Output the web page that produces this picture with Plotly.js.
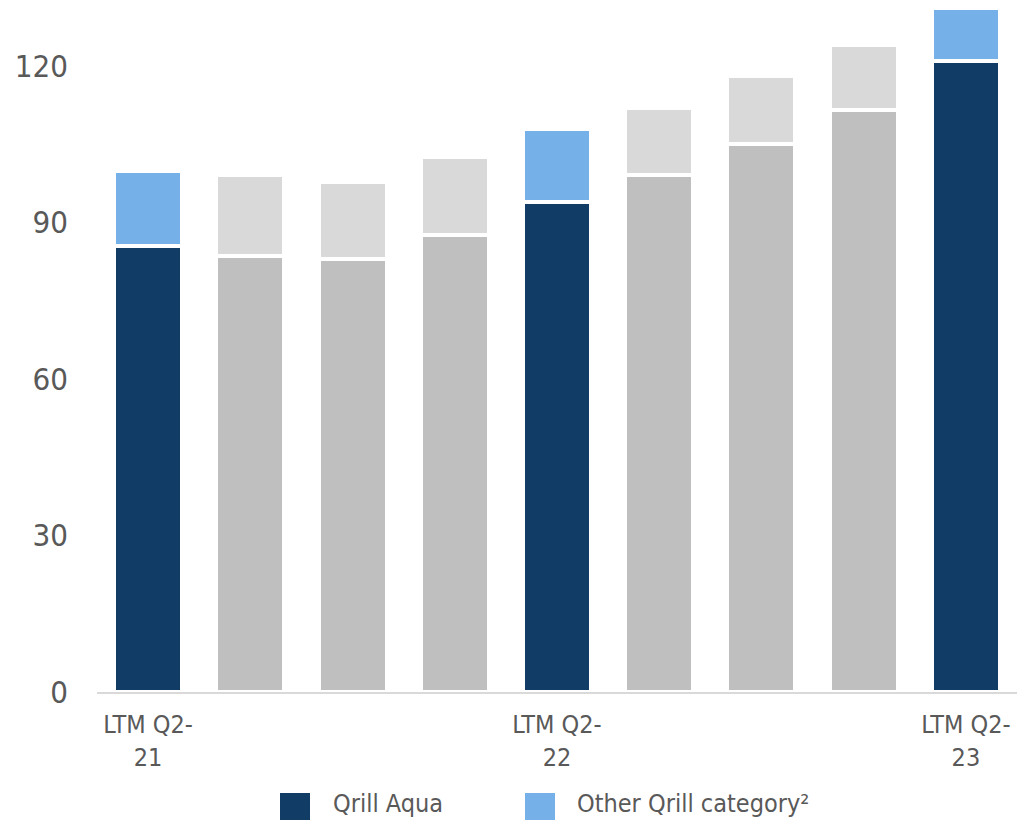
<!DOCTYPE html>
<html>
<head>
<meta charset="utf-8">
<script src="https://cdn.plot.ly/plotly-3.0.1.min.js"></script>
<style>
  html, body { margin: 0; padding: 0; background: #ffffff; }
  #chart { width: 1023px; height: 820px; }
</style>
</head>
<body>
<div id="chart"></div>
<script>
// Quarterly LTM periods
const periods = ["LTM Q2-21", "LTM Q3-21", "LTM Q4-21", "LTM Q1-22", "LTM Q2-22",
                 "LTM Q3-22", "LTM Q4-22", "LTM Q1-23", "LTM Q2-23"];
// Periods shown in colour (others are greyed out)
const highlighted = [true, false, false, false, true, false, false, false, true];
// Series values
const qrillAqua = [85.6, 83.6, 83.0, 87.6, 93.9, 99.2, 105.1, 111.6, 120.9];
const otherQrill = [14.2, 15.5, 14.8, 15.0, 14.0, 12.8, 13.0, 12.4, 10.2];
// Axis labels
const xTickVals = ["LTM Q2-21", "LTM Q2-22", "LTM Q2-23"];
const xTickText = ["LTM Q2-<br>21", "LTM Q2-<br>22", "LTM Q2-<br>23"];
const yTickVals = [0, 30, 60, 90, 120];
const seriesNames = ["Qrill Aqua", "Other Qrill category²"];

const navy = "#113c66", lightBlue = "#75b0e8";
const greyDark = "#bfbfbf", greyLight = "#d9d9d9";
const textColor = "#595959";
const font = "'DejaVu Sans Condensed', 'DejaVu Sans', sans-serif";

const traces = [
  {
    type: "bar", x: periods, y: qrillAqua, name: seriesNames[0],
    marker: { color: highlighted.map(h => h ? navy : greyDark), line: { color: "#ffffff", width: 4 } },
    hoverinfo: "x+y"
  },
  {
    type: "bar", x: periods, y: otherQrill, name: seriesNames[1],
    marker: { color: highlighted.map(h => h ? lightBlue : greyLight), line: { color: "#ffffff", width: 4 } },
    hoverinfo: "x+y"
  }
];

// Plot-area geometry (pixels) used to place the legend keys
const W = 1023, H = 820, mL = 97, mR = 6, mT = 3, mB = 128;
const px = v => (v - mL) / (W - mL - mR);
const py = v => (H - mB - v) / (H - mT - mB);

const legendItems = [
  { color: navy, name: seriesNames[0], x0: 280, tx: 331 },
  { color: lightBlue, name: seriesNames[1], x0: 525, tx: 575 }
];

const shapes = legendItems.map(it => ({
  type: "rect", xref: "paper", yref: "paper",
  x0: px(it.x0), x1: px(it.x0 + 30), y0: py(823), y1: py(793),
  fillcolor: it.color, line: { width: 0 }
}));
const annotations = legendItems.map(it => ({
  xref: "paper", yref: "paper", x: px(it.tx), y: py(804),
  xanchor: "left", yanchor: "middle", showarrow: false,
  text: it.name, font: { family: font, size: 25, color: textColor }
}));

const layout = {
  width: W, height: H,
  margin: { l: mL, r: mR, t: mT, b: mB, pad: 0 },
  paper_bgcolor: "#ffffff", plot_bgcolor: "#ffffff",
  barmode: "stack", bargap: 0.335,
  showlegend: false,
  font: { family: font, color: textColor },
  xaxis: {
    type: "category", categoryorder: "array", categoryarray: periods,
    tickmode: "array", tickvals: xTickVals, ticktext: xTickText,
    showline: true, linecolor: "#d9d9d9", linewidth: 2,
    showgrid: false, zeroline: false, ticks: "",
    tickfont: { family: font, size: 25, color: textColor },
    ticklabelstandoff: 9
  },
  yaxis: {
    range: [0, 132.1], tickmode: "array", tickvals: yTickVals,
    showgrid: false, zeroline: false, showline: false, ticks: "",
    tickfont: { family: font, size: 31, color: textColor },
    ticklabelstandoff: 28
  },
  shapes: shapes,
  annotations: annotations
};

Plotly.newPlot("chart", traces, layout, { displayModeBar: false, staticPlot: true });
</script>
</body>
</html>
